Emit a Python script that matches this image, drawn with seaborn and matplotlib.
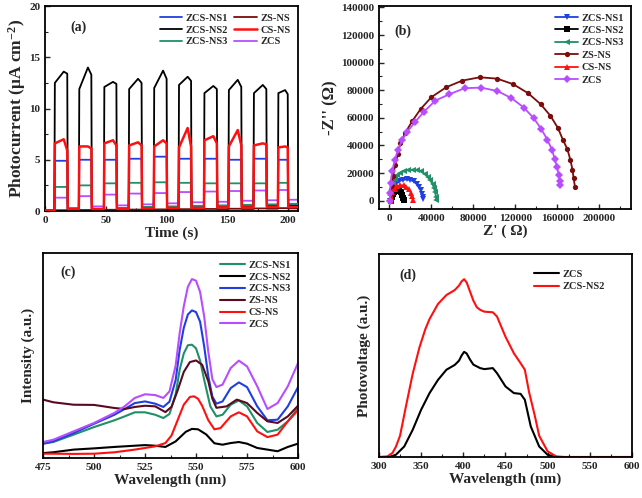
import numpy as np
import pandas as pd
import matplotlib
matplotlib.use("Agg")
import matplotlib.pyplot as plt
import seaborn as sns
from matplotlib.ticker import MultipleLocator, NullLocator

# ---------------- (a) photocurrent ----------------
pulse_on = [7.7, 27.8, 48.4, 68.8, 89.4, 109.8, 130.7, 150.8, 171.4, 191.5]
pulse_off = [18.7, 38.5, 59.1, 79.8, 100.4, 120.5, 141.7, 161.8, 182.4, 200.0]
t_end = 208

ns1_on = [4.9, 5.0, 5.0, 5.1, 5.3, 5.1, 5.1, 5.0, 5.1, 5.0]
ns1_base = [0.05, 0.15, 0.2, 0.25, 0.3, 0.35, 0.4, 0.45, 0.5, 0.55, 0.6]
ns2_start = [12.5, 11.9, 12.1, 11.9, 12.0, 12.3, 11.5, 11.8, 11.5, 11.5]
ns2_peak = [13.6, 14.0, 12.6, 12.9, 13.7, 13.1, 12.2, 12.8, 12.3, 11.8]
ns2_end = [13.4, 13.3, 12.4, 12.5, 12.9, 12.7, 11.9, 12.1, 11.9, 11.4]
ns2_base = [0.05, 0.1, 0.15, 0.2, 0.2, 0.25, 0.3, 0.35, 0.4, 0.45, 0.5]
ns3_on = [2.35, 2.5, 2.7, 2.75, 2.8, 2.75, 2.7, 2.7, 2.7, 2.75]
ns3_base = [0.05, 0.1, 0.2, 0.3, 0.4, 0.45, 0.5, 0.55, 0.6, 0.65, 0.7]
zs_on = [0.08, 0.1, 0.12, 0.14, 0.16, 0.18, 0.2, 0.22, 0.25, 0.28]
zs_base = [0.02, 0.05, 0.07, 0.09, 0.11, 0.13, 0.15, 0.17, 0.19, 0.22, 0.25]
cs_start = [6.6, 6.3, 6.6, 6.4, 6.3, 6.2, 6.9, 6.3, 6.4, 6.2]
cs_peak = [7.0, 6.3, 6.9, 6.7, 6.9, 8.1, 7.3, 7.9, 6.6, 6.3]
cs_end = [5.9, 6.1, 6.4, 6.4, 6.6, 6.3, 6.6, 6.4, 6.5, 6.2]
cs_base = [0.05, 0.2, 0.2, 0.2, 0.25, 0.3, 0.3, 0.35, 0.35, 0.4, 0.4]
zcs_on = [1.3, 1.45, 1.6, 1.7, 1.75, 1.85, 1.9, 1.95, 2.0, 2.05]
zcs_base = [0.05, 0.3, 0.45, 0.55, 0.65, 0.75, 0.85, 0.9, 1.0, 1.05, 1.1]

# ---------------- (b) Nyquist plots (x, y in units of 1000 ohm) ----------------
nyq_ns1_x = [0.5, 1.0, 2.2, 4.0, 6.5, 9.5, 13.0, 16.5, 20.0, 23.0, 25.8, 28.0, 29.8, 31.0, 31.6, 31.8]
nyq_ns1_y = [0.0, 3.5, 7.0, 10.0, 12.5, 14.2, 15.2, 15.4, 15.0, 14.0, 12.3, 10.0, 7.5, 4.8, 2.8, 1.5]
nyq_ns2_x = [1.5, 2.0, 3.0, 4.7, 6.8, 8.8, 10.7, 12.2, 13.2, 13.6]
nyq_ns2_y = [0.0, 2.5, 4.8, 6.4, 7.2, 7.0, 6.0, 4.3, 2.2, 0.3]
nyq_ns3_x = [0.0, 0.5, 1.5, 3.0, 5.0, 7.5, 10.5, 14.0, 18.0, 22.0, 26.0, 30.0, 33.5, 36.5, 39.0, 41.0, 42.5, 43.5, 44.2, 44.5]
nyq_ns3_y = [0.0, 4.0, 8.0, 12.0, 15.5, 18.3, 20.3, 21.6, 22.3, 22.5, 22.2, 21.2, 19.5, 17.3, 14.7, 12.0, 9.0, 6.0, 3.0, 0.5]
nyq_zs_x = [0.5, 1.0, 2.0, 3.5, 5.5, 8.0, 10.4, 15.2, 21.8, 29.8, 39.9, 54.1, 69.3, 86.1, 102.6, 117.8,
            132.0, 144.0, 153.3, 160.5, 165.2, 169.4, 172.3, 174.3, 175.4, 176.6]
nyq_zs_y = [0.0, 5.0, 11.0, 18.0, 26.0, 34.0, 41.7, 49.4, 57.8, 66.5, 75.0, 82.2, 87.0, 89.4, 88.4, 84.4,
            77.9, 69.9, 61.5, 52.6, 44.1, 37.4, 29.6, 22.4, 16.4, 10.3]
nyq_cs_x = [1.0, 1.5, 2.8, 4.8, 7.5, 10.5, 13.5, 16.2, 18.5, 20.3, 21.5, 22.0]
nyq_cs_y = [0.0, 3.0, 6.0, 8.6, 10.4, 11.2, 11.1, 10.0, 8.2, 5.8, 3.2, 0.8]
nyq_zcs_x = [0.2, 0.6, 1.0, 2.6, 5.1, 8.3, 12.1, 17.1, 24.7, 33.0, 43.7, 57.0, 71.6, 87.1, 102.6, 116.2,
             127.9, 137.4, 144.7, 150.4, 154.8, 157.4, 159.6, 161.2, 162.1, 162.4]
nyq_zcs_y = [0.0, 5.5, 12.8, 21.2, 29.6, 36.9, 44.1, 50.1, 57.3, 64.6, 72.5, 77.1, 81.5, 81.9, 79.5, 74.3,
             67.5, 59.8, 51.8, 44.1, 36.9, 30.2, 24.4, 18.8, 14.5, 11.6]

# ---------------- (c) PL spectra ----------------
pl_zcs_x = [475, 480, 490, 500, 510, 515, 520, 525, 530, 534, 537, 540, 542, 544, 546, 548, 550, 552,
            554, 556, 558, 560, 563, 567, 571, 575, 580, 585, 590, 595, 600]
pl_zcs_y = [7.8, 8.9, 13.0, 17.1, 22.0, 25.2, 29.3, 31.1, 30.7, 29.3, 32.5, 45.0, 61.0, 74.0, 83.5, 87.3,
            86.5, 81.0, 69.1, 52.0, 38.5, 34.6, 35.8, 43.9, 47.5, 44.7, 35.0, 23.9, 26.8, 35.0, 46.3]
pl_ns3_x = [475, 480, 490, 500, 510, 515, 520, 525, 530, 534, 537, 540, 542, 544, 546, 548, 550, 552,
            554, 556, 558, 560, 563, 567, 571, 575, 580, 585, 590, 595, 600]
pl_ns3_y = [7.0, 8.1, 12.2, 16.7, 21.1, 23.9, 26.8, 27.6, 26.5, 24.9, 27.5, 38.0, 52.8, 63.5, 70.0, 72.0,
            71.2, 66.5, 54.5, 40.0, 30.0, 26.5, 27.6, 34.1, 36.9, 34.6, 25.2, 18.4, 18.7, 25.2, 34.6]
pl_ns1_x = [475, 480, 490, 500, 510, 515, 520, 525, 530, 534, 537, 540, 542, 544, 546, 548, 550, 552,
            554, 557, 560, 563, 567, 571, 575, 580, 585, 590, 595, 600]
pl_ns1_y = [7.0, 7.8, 11.4, 15.1, 18.4, 20.3, 22.3, 22.3, 21.1, 19.5, 21.5, 31.0, 43.1, 51.0, 55.0, 55.3,
            53.5, 47.5, 38.2, 25.2, 20.3, 21.1, 26.0, 28.1, 25.2, 17.1, 12.7, 13.8, 17.9, 24.4]
pl_zs_x = [475, 480, 490, 500, 510, 515, 520, 525, 530, 535, 538, 541, 544, 547, 550, 553, 556, 558,
           560, 565, 570, 575, 580, 585, 590, 595, 600]
pl_zs_y = [28.5, 27.2, 26.0, 25.9, 24.4, 23.9, 24.9, 25.5, 25.2, 22.4, 25.0, 33.0, 42.0, 46.8, 47.6, 45.5,
           37.5, 29.0, 24.5, 25.2, 28.5, 26.8, 22.0, 17.9, 17.1, 20.3, 25.5]
pl_cs_x = [475, 480, 490, 500, 510, 520, 530, 535, 538, 541, 544, 547, 549, 551, 553, 556, 559, 562,
           567, 571, 575, 580, 585, 590, 595, 600]
pl_cs_y = [2.1, 2.1, 2.0, 2.1, 2.8, 4.1, 5.7, 7.3, 11.0, 18.5, 26.0, 29.8, 30.1, 28.9, 25.5, 18.5, 14.0,
           14.6, 20.3, 22.3, 20.3, 13.0, 10.2, 11.4, 17.9, 23.3]
pl_ns2_x = [475, 480, 490, 500, 510, 520, 525, 530, 535, 540, 545, 548, 551, 555, 559, 563, 567, 571,
            575, 580, 585, 590, 595, 600]
pl_ns2_y = [2.4, 2.8, 4.1, 4.7, 5.4, 6.0, 6.3, 6.0, 5.4, 8.1, 12.8, 14.2, 14.0, 11.5, 7.2, 6.5, 7.3, 7.8,
            7.0, 4.9, 4.1, 3.3, 5.4, 7.0]

# ---------------- (d) SPV ----------------
spv_ns2_x = [300, 310, 316, 320, 325, 332, 340, 348, 355, 360, 370, 380, 390, 395, 398, 401, 404, 408,
             412, 416, 420, 425, 435, 440, 450, 460, 468, 473, 478, 485, 490, 500, 510, 520, 600]
spv_ns2_y = [0.0, 0.3, 2.0, 5.0, 10.5, 25.0, 41.0, 54.0, 63.0, 68.0, 75.4, 79.8, 82.3, 84.5, 86.5, 87.6,
             86.0, 81.5, 77.0, 73.8, 72.5, 71.6, 71.3, 69.2, 59.3, 51.1, 46.2, 43.0, 32.0, 20.0, 10.5, 2.8,
             0.3, 0.0, 0.0]
spv_zcs_x = [300, 312, 320, 330, 340, 350, 360, 370, 380, 390, 395, 398, 401, 404, 408, 412, 420, 425,
             435, 440, 450, 460, 468, 473, 480, 490, 500, 510, 600]
spv_zcs_y = [0.0, 0.0, 1.1, 5.2, 13.4, 23.3, 31.5, 38.0, 43.0, 45.4, 47.5, 50.0, 51.8, 51.0, 48.0, 45.5,
             43.8, 43.3, 43.8, 41.3, 34.8, 31.5, 31.1, 28.2, 15.1, 5.2, 1.1, 0.0, 0.0]

BLUE = "#1f3fe0"
GREEN = "#1f9068"
BROWN = "#7a0c0c"
RED = "#ff1010"
PURPLE = "#b84dff"


def pulse_trace(base, start, peak, end):
    t, y = [0.0], [base[0]]
    for i in range(len(pulse_on)):
        on, off = pulse_on[i], pulse_off[i]
        t += [on, on + 0.4, on + 0.7 * (off - on), off - 0.4, off]
        y += [base[i], start[i], peak[i], end[i], base[i + 1]]
    t.append(t_end)
    y.append(base[-1])
    return t, y


sns.set_style("ticks")
plt.rcParams["font.family"] = ["Liberation Serif", "DejaVu Serif"]
plt.rcParams["font.weight"] = "bold"
plt.rcParams["axes.labelweight"] = "bold"
plt.rcParams["mathtext.fontset"] = "custom"
plt.rcParams["mathtext.rm"] = "Liberation Serif:bold"
plt.rcParams["mathtext.default"] = "rm"
plt.rcParams["xtick.direction"] = "in"
plt.rcParams["ytick.direction"] = "in"
plt.rcParams["axes.linewidth"] = 1.3
plt.rcParams["axes.edgecolor"] = "black"

fig = plt.figure(figsize=(6.42, 4.98), dpi=100)
ax_a = fig.add_axes([0.0701, 0.5763, 0.394, 0.4116])
ax_b = fig.add_axes([0.5903, 0.5803, 0.3925, 0.4076])
ax_c = fig.add_axes([0.067, 0.0803, 0.3972, 0.4116])
ax_d = fig.add_axes([0.5903, 0.0823, 0.394, 0.4076])

LAB = 11
TICK = 8
LEG = 7.5

# (a)
series_a = [
    ("ZCS-NS1", BLUE, (ns1_base, ns1_on, ns1_on, ns1_on), 3),
    ("ZCS-NS2", "black", (ns2_base, ns2_start, ns2_peak, ns2_end), 4),
    ("ZCS-NS3", GREEN, (ns3_base, ns3_on, ns3_on, ns3_on), 3),
    ("ZS-NS", BROWN, (zs_base, zs_on, zs_on, zs_on), 2),
    ("CS-NS", RED, (cs_base, cs_start, cs_peak, cs_end), 5),
    ("ZCS", PURPLE, (zcs_base, zcs_on, zcs_on, zcs_on), 2),
]
for name, col, levels, z in series_a:
    t, y = pulse_trace(*levels)
    lw = 1.8 if name == "CS-NS" else 1.3
    sns.lineplot(x=t, y=y, ax=ax_a, color=col, label=name, sort=False,
                 estimator=None, linewidth=lw, zorder=z)
ax_a.set_xlim(0, 208)
ax_a.set_ylim(0, 20)
ax_a.xaxis.set_major_locator(MultipleLocator(50))
ax_a.xaxis.set_minor_locator(MultipleLocator(25))
ax_a.yaxis.set_major_locator(MultipleLocator(5))
ax_a.yaxis.set_minor_locator(MultipleLocator(2.5))
ax_a.set_xlabel("Time (s)", fontsize=LAB, labelpad=1)
ax_a.set_ylabel("Photocurrent (μA cm$^{-2}$)", fontsize=12.5, labelpad=1)
ax_a.legend(loc="upper right", ncol=2, frameon=False, fontsize=LEG, handlelength=2.2,
            columnspacing=0.6, handletextpad=0.3, labelspacing=0.25, borderaxespad=0.3)
ax_a.text(0.1, 0.88, "(a)", transform=ax_a.transAxes, fontsize=10, fontweight="bold")

# (b)
series_b = [
    ("ZCS-NS1", BLUE, "v", nyq_ns1_x, nyq_ns1_y),
    ("ZCS-NS2", "black", "s", nyq_ns2_x, nyq_ns2_y),
    ("ZCS-NS3", GREEN, "<", nyq_ns3_x, nyq_ns3_y),
    ("ZS-NS", BROWN, "o", nyq_zs_x, nyq_zs_y),
    ("CS-NS", RED, "^", nyq_cs_x, nyq_cs_y),
    ("ZCS", PURPLE, "D", nyq_zcs_x, nyq_zcs_y),
]
for name, col, mk, xs, ys in series_b:
    sns.lineplot(x=np.array(xs) * 1000, y=np.array(ys) * 1000, ax=ax_b, color=col, label=name,
                 sort=False, estimator=None, linewidth=1.3, marker=mk, markersize=3.8,
                 markeredgewidth=0)
ax_b.set_xlim(-10000, 230000)
ax_b.set_ylim(-6000, 141000)
ax_b.xaxis.set_major_locator(MultipleLocator(40000))
ax_b.xaxis.set_minor_locator(MultipleLocator(20000))
ax_b.yaxis.set_major_locator(MultipleLocator(20000))
ax_b.yaxis.set_minor_locator(MultipleLocator(10000))
ax_b.set_xlabel("Z' ( Ω)", fontsize=LAB, labelpad=1)
ax_b.set_ylabel("-Z'' (Ω)", fontsize=12, labelpad=2)
ax_b.legend(loc="upper right", frameon=False, fontsize=LEG, handlelength=2.2,
            handletextpad=0.3, labelspacing=0.3, borderaxespad=0.3)
ax_b.text(0.06, 0.86, "(b)", transform=ax_b.transAxes, fontsize=10, fontweight="bold")

# (c)
series_c = [
    ("ZCS-NS1", GREEN, pl_ns1_x, pl_ns1_y),
    ("ZCS-NS2", "black", pl_ns2_x, pl_ns2_y),
    ("ZCS-NS3", BLUE, pl_ns3_x, pl_ns3_y),
    ("ZS-NS", "#5a0a20", pl_zs_x, pl_zs_y),
    ("CS-NS", RED, pl_cs_x, pl_cs_y),
    ("ZCS", PURPLE, pl_zcs_x, pl_zcs_y),
]
for name, col, xs, ys in series_c:
    sns.lineplot(x=xs, y=ys, ax=ax_c, color=col, label=name, estimator=None, linewidth=1.5)
ax_c.set_xlim(475, 600)
ax_c.set_ylim(0, 100)
ax_c.xaxis.set_major_locator(MultipleLocator(25))
ax_c.xaxis.set_minor_locator(MultipleLocator(12.5))
ax_c.yaxis.set_major_locator(NullLocator())
ax_c.set_xlabel("Wavelength (nm)", fontsize=LAB, labelpad=1)
ax_c.set_ylabel("Intensity (a.u.)", fontsize=LAB, labelpad=6)
ax_c.legend(loc="upper right", frameon=False, fontsize=LEG, handlelength=2.4,
            handletextpad=0.3, labelspacing=0.25, borderaxespad=0.3)
ax_c.text(0.07, 0.89, "(c)", transform=ax_c.transAxes, fontsize=10, fontweight="bold")

# (d)
sns.lineplot(x=spv_zcs_x, y=spv_zcs_y, ax=ax_d, color="black", label="ZCS",
             estimator=None, linewidth=1.5)
sns.lineplot(x=spv_ns2_x, y=spv_ns2_y, ax=ax_d, color=RED, label="ZCS-NS2",
             estimator=None, linewidth=1.5)
ax_d.set_xlim(300, 600)
ax_d.set_ylim(0, 100)
ax_d.xaxis.set_major_locator(MultipleLocator(50))
ax_d.xaxis.set_minor_locator(MultipleLocator(25))
ax_d.yaxis.set_major_locator(NullLocator())
ax_d.set_xlabel("Wavelength (nm)", fontsize=LAB, labelpad=1)
ax_d.set_ylabel("Photovoltage (a.u.)", fontsize=LAB, labelpad=6)
ax_d.legend(loc="upper right", bbox_to_anchor=(0.93, 0.97), frameon=False, fontsize=LEG,
            handlelength=2.4, handletextpad=0.3, labelspacing=0.3)
ax_d.text(0.08, 0.88, "(d)", transform=ax_d.transAxes, fontsize=10, fontweight="bold")

for ax in (ax_a, ax_b, ax_c, ax_d):
    ax.tick_params(axis="both", which="major", labelsize=TICK, length=3.5, width=1)
    ax.tick_params(axis="both", which="minor", length=2, width=0.8)
    for sp in ax.spines.values():
        sp.set_visible(True)
        sp.set_linewidth(1.3)
    for lab in ax.get_xticklabels() + ax.get_yticklabels():
        lab.set_fontweight("bold")

fig.savefig("out.png", dpi=100)
